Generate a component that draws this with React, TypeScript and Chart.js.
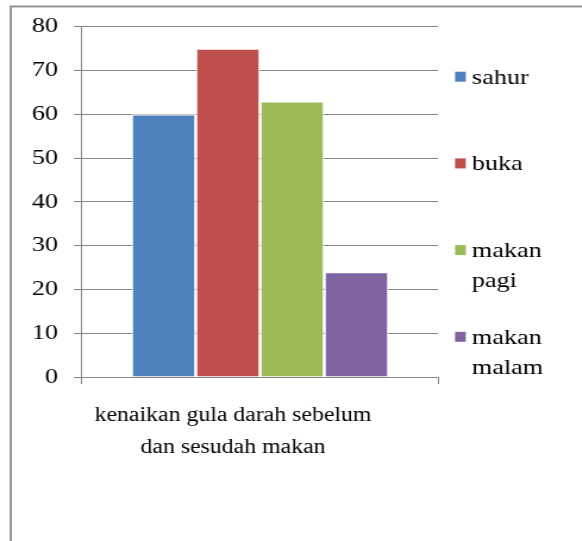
import React, { useEffect, useRef } from "react";
import { Chart, registerables } from "chart.js";

Chart.register(...registerables);

// ---- data ----
const categories = [["kenaikan gula darah sebelum", "dan sesudah makan"]];
const seriesNames = ["sahur", "buka", "makan pagi", "makan malam"];
const legendLines = [["sahur"], ["buka"], ["makan", "pagi"], ["makan", "malam"]];
const sahur = [60];
const buka = [75];
const makanPagi = [63];
const makanMalam = [24];
const seriesColors = ["#4F81BD", "#C0504D", "#9BBB59", "#8064A2"];
const yMin = 0;
const yMax = 80;
const yStep = 10;

// ---- layout (canvas units; canvas is stretched horizontally by STRETCH) ----
const STRETCH = 1.19;
const CW = 489;
const CH = 541;
const FONT = "Liberation Serif";
const GRID = "#868686";

const framePlugin = {
  id: "frame",
  beforeDraw(chart: any) {
    const ctx = chart.ctx;
    ctx.save();
    ctx.fillStyle = "#ffffff";
    ctx.fillRect(0, 0, chart.width, chart.height);
    ctx.strokeStyle = "#8a8a8a";
    ctx.lineWidth = 1.8;
    ctx.strokeRect(9, 6.5, 2000, 2000);
    ctx.restore();
  },
};

const legendPlugin = {
  id: "sideLegend",
  afterDraw(chart: any) {
    const ctx = chart.ctx;
    const area = chart.chartArea;
    const boxX = area.right + 14.3;
    const textX = area.right + 28.5;
    ctx.save();
    ctx.font = `22px ${FONT}`;
    ctx.textAlign = "left";
    ctx.textBaseline = "alphabetic";
    chart.data.datasets.forEach((ds: any, i: number) => {
      const cy = area.top + 50 + i * 86.7;
      ctx.fillStyle = ds.backgroundColor;
      ctx.fillRect(boxX, cy - 5, 9, 10);
      ctx.fillStyle = "#000";
      legendLines[i].forEach((line, j) => {
        ctx.fillText(line, textX, cy + 7 + j * 30);
      });
    });
    ctx.restore();
  },
};

export default function App() {
  const ref = useRef<HTMLCanvasElement>(null);

  useEffect(() => {
    if (!ref.current) return;
    let chart: any = null;
    let cancelled = false;
    const values = [sahur, buka, makanPagi, makanMalam];
    const build = () => {
      if (cancelled || !ref.current) return;
      Chart.defaults.font.family = FONT;
      chart = new Chart(ref.current, {
        type: "bar",
        data: {
          labels: categories as any,
          datasets: seriesNames.map((name, i) => ({
            label: name,
            data: values[i],
            backgroundColor: seriesColors[i],
            borderColor: "#ffffff",
            borderWidth: 1.26,
            categoryPercentage: 0.722,
            barPercentage: 1,
          })),
        },
        options: {
          responsive: false,
          animation: false,
          devicePixelRatio: 1,
          layout: { padding: { top: 23, right: CW - 368.1, bottom: CH - 377 - 100, left: 0 } },
          plugins: {
            legend: { display: false },
            tooltip: { enabled: false },
          },
          scales: {
            x: {
              ticks: {
                color: "#000",
                font: { family: FONT, size: 20, lineHeight: 1.6 },
                padding: 16,
                labelOffset: -22.7,
                maxRotation: 0,
                autoSkip: false,
              },
              grid: { offset: true, drawOnChartArea: false, drawTicks: true, tickLength: 7, color: GRID },
              border: { color: GRID },
              afterFit(s: any) {
                s.height = 100;
              },
            },
            y: {
              min: yMin,
              max: yMax,
              ticks: {
                stepSize: yStep,
                color: "#000",
                font: { family: FONT, size: 22 },
                padding: 13.5,
              },
              grid: { color: GRID, tickLength: 6.7, drawTicks: true },
              border: { color: GRID },
              afterFit(s: any) {
                s.width = 68.9;
              },
            },
          },
        },
        plugins: [framePlugin, legendPlugin],
      });
    };
    const fonts: any = (document as any).fonts;
    if (fonts && fonts.load) {
      Promise.all([fonts.load(`22px "${FONT}"`), fonts.load(`20px "${FONT}"`)])
        .catch(() => null)
        .then(build);
    } else {
      build();
    }
    return () => {
      cancelled = true;
      if (chart) chart.destroy();
    };
  }, []);

  return (
    <div
      style={{
        position: "absolute",
        left: 0,
        top: 0,
        width: 582,
        height: 541,
        overflow: "hidden",
        background: "#fff",
        fontFamily: FONT,
      }}
    >
      <canvas
        ref={ref}
        width={CW}
        height={CH}
        style={{
          width: `${CW}px`,
          height: `${CH}px`,
          display: "block",
          transform: `scaleX(${STRETCH})`,
          transformOrigin: "0 0",
        }}
      />
    </div>
  );
}
